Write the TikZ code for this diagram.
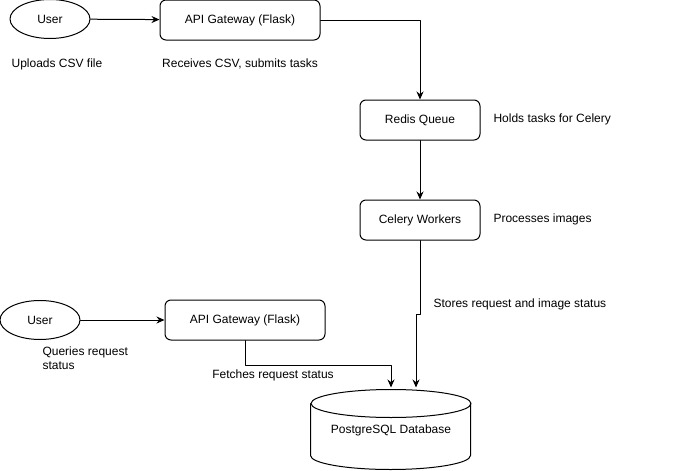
\documentclass[tikz,border=0pt]{standalone}
\usepackage{fontspec}
\setmainfont{Liberation Sans}
\usetikzlibrary{shapes.geometric,arrows.meta}
\begin{document}
\begin{tikzpicture}[x=1pt, y=-1pt, line cap=round, line join=round, line width=1pt,
		font=\fontsize{12}{14}\selectfont, >={Stealth[length=8pt,width=7pt]}]
			\tikzset{box/.style={draw, rounded corners=6pt, minimum width=160pt, minimum height=40pt},
				actor/.style={draw, ellipse, minimum width=80pt, minimum height=39pt},
				note/.style={inner sep=0pt},
				dbnode/.style={minimum width=160pt, minimum height=80pt}}
			\useasboundingbox (0,0) rectangle (691,471);
			% upload path
			\node[actor] (user1) at (50,19) {User};
			\node[box] (api1) at (240,20) {API Gateway (Flask)};
			\node[box, minimum width=120pt] (redis) at (420,120) {Redis Queue};
			\node[box, minimum width=120pt] (celery) at (420,220) {Celery Workers};
			\node[note] (upl) at (57,64) {Uploads CSV file};
			\node[note] (recv) at (240,64) {Receives CSV, submits tasks};
			\node[note, anchor=west] (hold) at (493,119) {Holds tasks for Celery};
			\node[note, anchor=west] (proc) at (493,219) {Processes images};
			\node[note, anchor=west] (stor) at (433,304) {Stores request and image status};
			% query path
			\node[actor] (user2) at (40,320) {User};
			\node[box] (api2) at (245,320) {API Gateway (Flask)};
			\node[note, anchor=north west, align=left] (qry) at (42,346) {Queries request\\status};
			\node[note] (fetch) at (273,375) {Fetches request status};
			% database
			\node[dbnode] (db) at (391,430) {PostgreSQL Database};
			\draw (db.north west) ++(0,14) -- ++(0,52) arc[start angle=180, end angle=360, x radius=80pt, y radius=14pt] -- ++(0,-52);
			\draw ([yshift=-14pt]db.north) ellipse[x radius=80pt, y radius=14pt];
			% connectors
			\draw[->] (user1) -- (api1);
			\draw[->] (api1.east) -| (redis.north);
			\draw[->] (redis) -- (celery);
			\draw[->] (celery.south) -- ++(0,74) -- ++(-4,0) -- ([xshift=25pt,yshift=2pt]db.north);
			\draw[->] (user2) -- (api2);
			\draw[->] (api2.south) -- ++(0,25) -| ([yshift=2pt]db.north);
	\end{tikzpicture}
\end{document}
